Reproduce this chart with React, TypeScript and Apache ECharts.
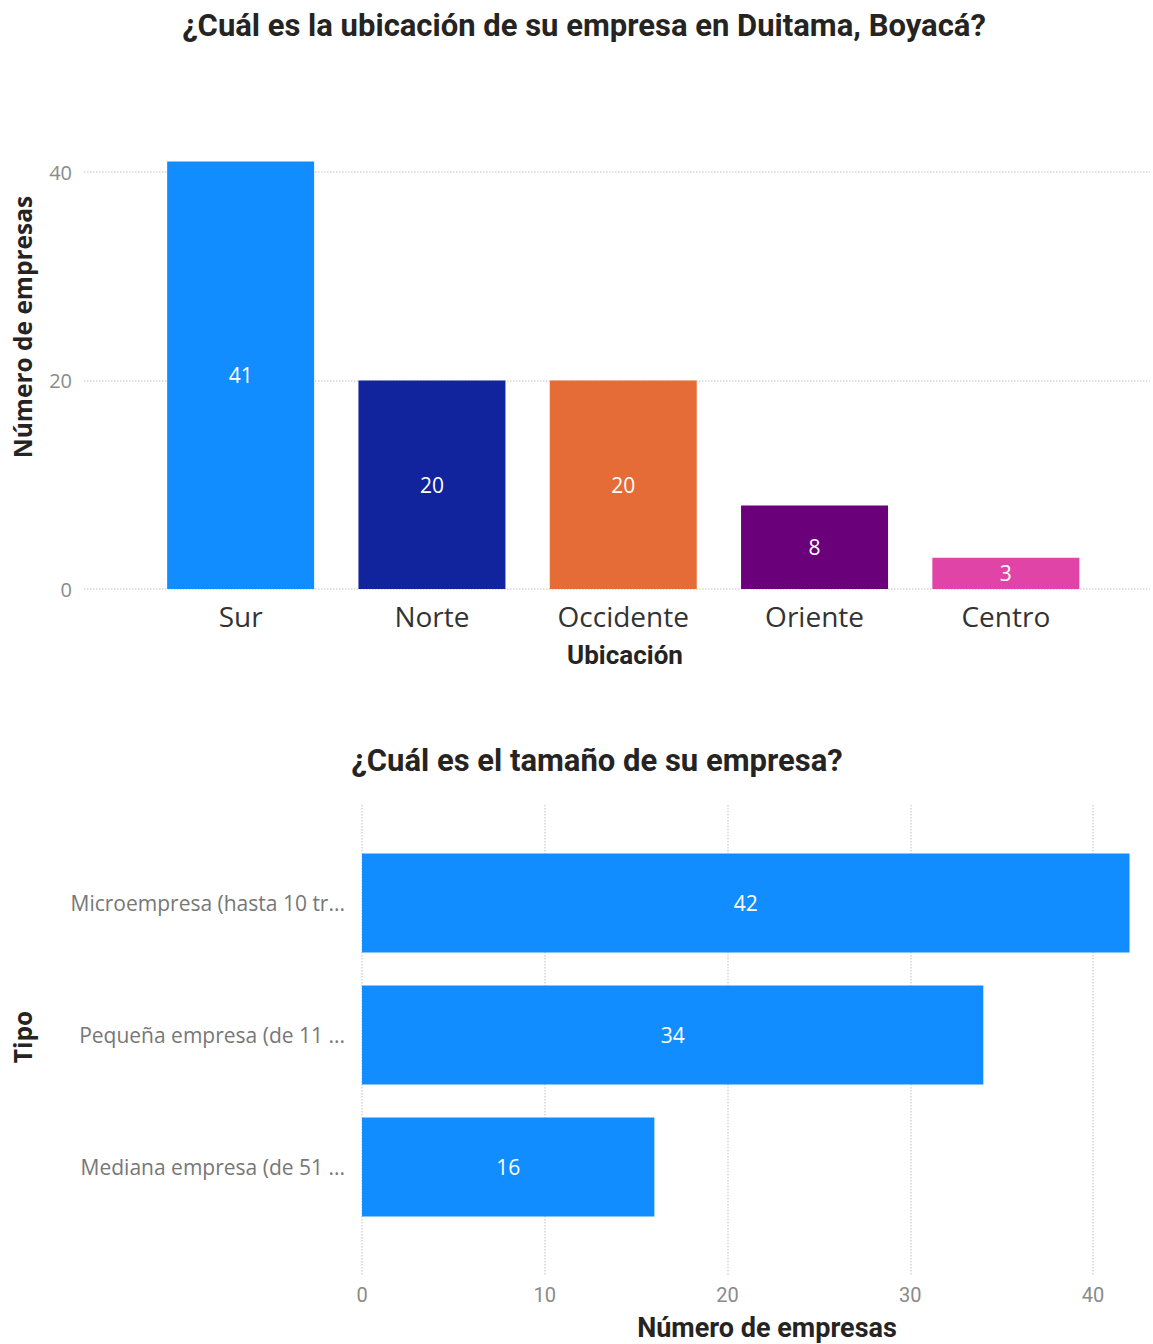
import React, { useEffect, useRef } from "react";
import * as echarts from "echarts";

const locCategories = ["Sur", "Norte", "Occidente", "Oriente", "Centro"];
const locValues = [41, 20, 20, 8, 3];
const locPalette = ["#118DFF", "#12239E", "#E66C37", "#6B007B", "#E044A7"];
const locTicks = [0, 20, 40];

const sizeCategories = [
  "Microempresa (hasta 10 tr...",
  "Pequeña empresa (de 11 ...",
  "Mediana empresa (de 51 ...",
];
const sizeValues = [42, 34, 16];
const sizeTicks = [0, 10, 20, 30, 40];

const TITLE_FONT = "Roboto, 'Noto Sans', sans-serif";
const BODY_FONT = "'Open Sans', 'Noto Sans', sans-serif";

export default function App() {
  const ref = useRef<HTMLDivElement>(null);
  useEffect(() => {
    document.body.style.margin = "0";
    const chart = echarts.init(ref.current!, null, { renderer: "svg" });
    const grid = { lineStyle: { type: "dotted", color: "#d6d6d6", width: 1.5 } };
    chart.setOption({
      animation: false,
      backgroundColor: "#ffffff",
      grid: [
        { left: 145, width: 956.5, top: 161.6, height: 427.4 },
        { left: 84, right: 3, top: 172, height: 417 },
        { left: 362, width: 767.5, top: 837, height: 396 },
        { left: 362, width: 731, top: 805, height: 470 },
      ],
      xAxis: [
        {
          gridIndex: 0,
          type: "category",
          data: locCategories,
          axisLine: { show: false },
          axisTick: { show: false },
          axisLabel: { fontSize: 28, color: "#333333", margin: 13, fontFamily: BODY_FONT },
        },
        { gridIndex: 1, type: "value", min: 0, max: 1, show: false },
        { gridIndex: 2, type: "value", min: 0, max: 42, show: false },
        {
          gridIndex: 3,
          type: "value",
          min: 0,
          max: sizeTicks[sizeTicks.length - 1],
          interval: 10,
          axisLine: { show: false },
          axisTick: { show: false },
          axisLabel: { fontSize: 20, color: "#8a8a8a", margin: 10, fontFamily: TITLE_FONT },
          splitLine: { show: true, ...grid },
        },
      ],
      yAxis: [
        { gridIndex: 0, type: "value", min: 0, max: 41, show: false },
        {
          gridIndex: 1,
          type: "value",
          min: 0,
          max: locTicks[locTicks.length - 1],
          interval: 20,
          axisLine: { show: false },
          axisTick: { show: false },
          axisLabel: { fontSize: 20, color: "#8a8a8a", margin: 12, fontFamily: BODY_FONT },
          splitLine: { show: true, ...grid },
        },
        {
          gridIndex: 2,
          type: "category",
          inverse: true,
          data: sizeCategories,
          axisLine: { show: false },
          axisTick: { show: false },
          axisLabel: { fontSize: 21, color: "#777777", margin: 17, fontFamily: BODY_FONT },
        },
        { gridIndex: 3, type: "value", min: 0, max: 1, show: false },
      ],
      series: [
        {
          type: "bar",
          xAxisIndex: 0,
          yAxisIndex: 0,
          barWidth: 147,
          data: locValues.map((v, i) => ({ value: v, itemStyle: { color: locPalette[i] } })),
          label: {
            show: true,
            position: "inside",
            color: "#ffffff",
            fontSize: 21,
            fontFamily: BODY_FONT,
          },
        },
        {
          type: "bar",
          xAxisIndex: 2,
          yAxisIndex: 2,
          barWidth: 99,
          itemStyle: { color: "#118DFF" },
          data: sizeValues,
          label: {
            show: true,
            position: "inside",
            color: "#ffffff",
            fontSize: 21,
            fontFamily: BODY_FONT,
          },
        },
      ],
      graphic: [
        {
          type: "text",
          x: 584,
          y: 25,
          style: {
            text: "¿Cuál es la ubicación de su empresa en Duitama, Boyacá?",
            align: "center",
            verticalAlign: "middle",
            fontSize: 31,
            fontWeight: "bold",
            fontFamily: TITLE_FONT,
            fill: "#252423",
          },
        },
        {
          type: "text",
          x: 22,
          y: 327,
          rotation: Math.PI / 2,
          style: {
            text: "Número de empresas",
            align: "center",
            verticalAlign: "middle",
            fontSize: 24.5,
            fontWeight: "bold",
            fontFamily: BODY_FONT,
            fill: "#252423",
          },
        },
        {
          type: "text",
          x: 625,
          y: 655,
          style: {
            text: "Ubicación",
            align: "center",
            verticalAlign: "middle",
            fontSize: 26,
            fontWeight: "bold",
            fontFamily: TITLE_FONT,
            fill: "#252423",
          },
        },
        {
          type: "text",
          x: 597,
          y: 760,
          style: {
            text: "¿Cuál es el tamaño de su empresa?",
            align: "center",
            verticalAlign: "middle",
            fontSize: 31,
            fontWeight: "bold",
            fontFamily: TITLE_FONT,
            fill: "#252423",
          },
        },
        {
          type: "text",
          x: 22,
          y: 1037,
          rotation: Math.PI / 2,
          style: {
            text: "Tipo",
            align: "center",
            verticalAlign: "middle",
            fontSize: 24.5,
            fontWeight: "bold",
            fontFamily: BODY_FONT,
            fill: "#252423",
          },
        },
        {
          type: "text",
          x: 767,
          y: 1328,
          style: {
            text: "Número de empresas",
            align: "center",
            verticalAlign: "middle",
            fontSize: 27,
            fontWeight: "bold",
            fontFamily: TITLE_FONT,
            fill: "#252423",
          },
        },
      ],
    });
    return () => chart.dispose();
  }, []);
  return <div ref={ref} style={{ width: 1153, height: 1344 }} />;
}
